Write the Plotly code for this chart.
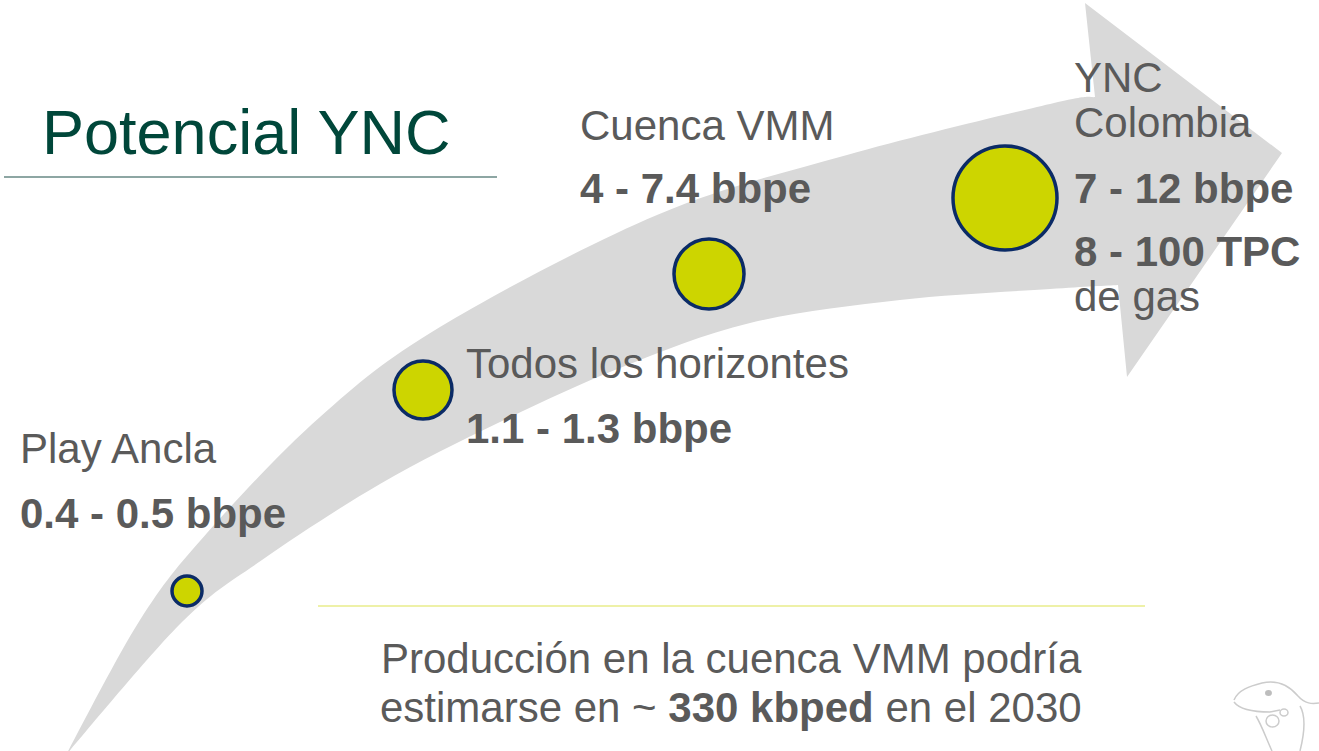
import numpy as np
import plotly.graph_objects as go

# --- data --------------------------------------------------------------------
stage_names = ["Play Ancla", "Todos los horizontes", "Cuenca VMM", "YNC", "Colombia"]
stage_ranges = ["0.4 - 0.5 bbpe", "1.1 - 1.3 bbpe", "4 - 7.4 bbpe", "7 - 12 bbpe"]
gas_range = "8 - 100 TPC"
gas_unit = "de gas"
title_text = "Potencial YNC"
footer_lines = [
    "Producción en la cuenca VMM podría",
    "estimarse en ~ <b>330 kbped</b> en el 2030",
]

# --- layout (pixel space of the 1319x751 slide) ------------------------------
W, H = 1319, 751
bubble_pos = [(187, 591), (423, 390), (709, 274), (1005, 198)]
bubble_px = [30, 58, 70, 104]

GREY_TXT = "#5a5a5a"
ARROW = "#d9d9d9"
FONT = "Liberation Sans, Arial, sans-serif"
FS = 42


def smooth(points):
    # catmull-rom through the points, returned as svg cubic segments
    p = np.array(points, dtype=float)
    p = np.vstack([p[0], p, p[-1]])
    out = []
    for i in range(1, len(p) - 2):
        c1 = p[i] + (p[i + 1] - p[i - 1]) / 6
        c2 = p[i + 1] - (p[i + 2] - p[i]) / 6
        out.append(f"C {c1[0]:.1f},{c1[1]:.1f} {c2[0]:.1f},{c2[1]:.1f} {p[i+1][0]:.1f},{p[i+1][1]:.1f}")
    return " ".join(out)


upper = [(66, 755), (140, 620), (207, 533), (320, 417), (440, 327),
         (657, 215), (847, 155), (1054, 103), (1095, 97)]
lower = [(1118, 285), (1050, 289), (900, 300), (750, 323), (620, 368),
         (500, 422), (380, 484), (262, 560), (182, 622), (66, 755)]
head = "L 1085,3 L 1282,153 L 1127,377 "
arrow_path = f"M {upper[0][0]},{upper[0][1]} " + smooth(upper) + " " + head + \
    f"L {lower[0][0]},{lower[0][1]} " + smooth(lower) + " Z"

fig = go.Figure()

fig.add_trace(go.Scatter(
    x=[p[0] for p in bubble_pos],
    y=[p[1] for p in bubble_pos],
    mode="markers",
    marker=dict(size=bubble_px, color="#cdd500", opacity=1,
                line=dict(color="#0b2b66", width=3.5)),
    hoverinfo="skip",
    showlegend=False,
))

shapes = [
    dict(type="path", path=arrow_path, fillcolor=ARROW, line=dict(width=0), layer="below"),
    dict(type="line", x0=4, x1=497, y0=177, y1=177, line=dict(color="#1d4f48", width=1.2)),
    dict(type="line", x0=318, x1=1145, y0=606, y1=606, line=dict(color="#eef1a8", width=2)),
]

# faint iguana logo, bottom right corner
logo = "#cccccc"
shapes += [
    dict(type="path", path="M 1234,700 C 1238,690 1250,686 1262,683 C 1275,680 1288,684 1298,696 "
                          "C 1305,704 1312,704 1319,703", line=dict(color=logo, width=1.5)),
    dict(type="path", path="M 1234,702 C 1240,710 1255,712 1270,712 L 1280,710",
         line=dict(color=logo, width=1.5)),
    dict(type="path", path="M 1256,716 C 1262,726 1266,738 1272,751",
         line=dict(color=logo, width=1.5)),
    dict(type="path", path="M 1300,706 C 1306,716 1304,735 1300,751",
         line=dict(color=logo, width=1.5)),
    dict(type="circle", x0=1266, x1=1279, y0=715, y1=727, line=dict(color=logo, width=1.5)),
    dict(type="circle", x0=1280, x1=1288, y0=709, y1=716, line=dict(color=logo, width=1.5)),
    dict(type="circle", x0=1265, x1=1272, y0=690, y1=696, fillcolor="#bdbdbd", line=dict(width=0)),
]


def label(x, baseline, text, size=FS, color=GREY_TXT, anchor="left"):
    fig.add_annotation(x=x, y=baseline - 0.35 * size, text=text, showarrow=False,
                       xanchor=anchor, yanchor="middle",
                       font=dict(family=FONT, size=size, color=color))


label(40, 154, title_text, size=63, color="#00473a")

label(18, 463, stage_names[0])
label(18, 528, f"<b>{stage_ranges[0]}</b>")
label(464, 378, stage_names[1])
label(464, 443, f"<b>{stage_ranges[1]}</b>")
label(578, 140, stage_names[2])
label(578, 203, f"<b>{stage_ranges[2]}</b>")
label(1072, 92, stage_names[3])
label(1072, 137, stage_names[4])
label(1072, 203, f"<b>{stage_ranges[3]}</b>")
label(1072, 266, f"<b>{gas_range}</b>")
label(1072, 311, gas_unit)

label(731, 673, footer_lines[0], anchor="center")
label(731, 722, footer_lines[1], anchor="center")

fig.update_layout(
    width=W, height=H,
    margin=dict(l=0, r=0, t=0, b=0),
    paper_bgcolor="white", plot_bgcolor="white",
    xaxis=dict(range=[0, W], visible=False, fixedrange=True),
    yaxis=dict(range=[H, 0], visible=False, fixedrange=True),
    shapes=shapes,
    showlegend=False,
)

fig.write_html("out.html", config={"displayModeBar": False},
               post_script="document.body.style.margin='0';document.body.style.overflow='hidden';")
